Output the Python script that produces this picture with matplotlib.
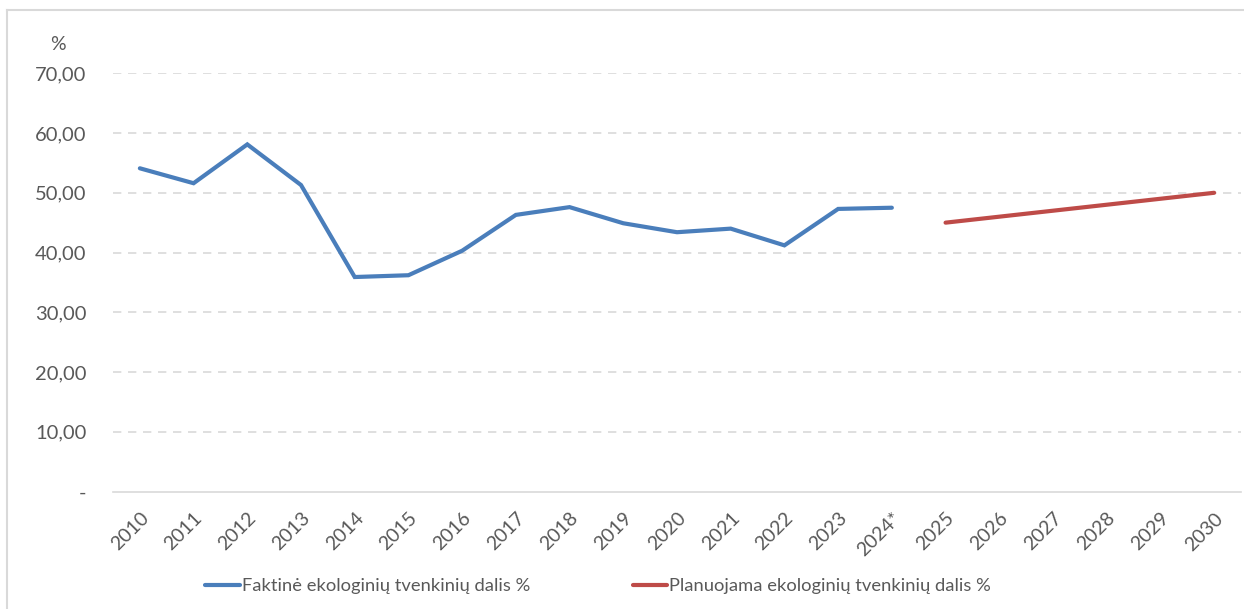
import matplotlib
matplotlib.use("Agg")
from matplotlib import pyplot as plt
from matplotlib.lines import Line2D
from matplotlib.transforms import ScaledTranslation

# Data
years = ["2010", "2011", "2012", "2013", "2014", "2015", "2016", "2017",
         "2018", "2019", "2020", "2021", "2022", "2023", "2024*",
         "2025", "2026", "2027", "2028", "2029", "2030"]
actual = [54.1, 51.6, 58.1, 51.3, 35.9, 36.2, 40.3, 46.3, 47.6, 44.9,
          43.4, 44.0, 41.2, 47.3, 47.5]
planned = [45.0, 46.0, 47.0, 48.0, 49.0, 50.0]
ytick_vals = [0, 10, 20, 30, 40, 50, 60, 70]
ytick_labels = ["-", "10,00", "20,00", "30,00", "40,00", "50,00", "60,00", "70,00"]

BLUE = "#4a7ebb"
RED = "#be4b48"
GREY_TXT = "#595959"
GRID = "#d9d9d9"

plt.rcParams['font.family'] = ['Lato', 'DejaVu Sans']

W, H = 1244, 609
fig = plt.figure(figsize=(W / 100, H / 100), dpi=100)
ax = fig.add_axes([113 / W, 1 - 491.5 / H, (1241 - 113) / W, (491.5 - 73.3) / H])

x_all = list(range(len(years)))
n_act = len(actual)
ax.plot(x_all[:n_act], actual, color=BLUE, lw=3.0, solid_capstyle="round",
        solid_joinstyle="miter", label="Faktinė ekologinių tvenkinių dalis %")
ax.plot(x_all[n_act:], planned, color=RED, lw=3.0, solid_capstyle="round",
        label="Planuojama ekologinių tvenkinių dalis %")

ax.set_xlim(-0.5, len(years) - 0.5)
ax.set_ylim(0, 70)
ax.set_yticks(ytick_vals)
ax.set_yticklabels(ytick_labels, color=GREY_TXT, fontsize=14.5)
ax.set_xticks(x_all)
ax.set_xticklabels(years, rotation=45, ha="right", va="top",
                   rotation_mode="anchor", color=GREY_TXT, fontsize=14)
shift = ScaledTranslation(-7 / 100, 0, fig.dpi_scale_trans)
for lbl in ax.get_xticklabels():
    lbl.set_transform(lbl.get_transform() + shift)
ax.tick_params(axis="both", length=0)
ax.tick_params(axis="y", pad=19)
ax.tick_params(axis="x", pad=13)

for v in ytick_vals[1:]:
    ax.axhline(v, color=GRID, lw=1.2, ls=(0, (5, 4)), zorder=0)

for s in ["top", "right", "left"]:
    ax.spines[s].set_visible(False)
ax.spines["bottom"].set_color(GRID)
ax.spines["bottom"].set_linewidth(1.2)

fig.text(58 / W, 1 - 45 / H, "%", color=GREY_TXT, fontsize=14,
         ha="center", va="center")

leg = fig.legend(loc="center", bbox_to_anchor=(598 / W, 1 - 586 / H), ncol=2,
                 frameon=False, fontsize=13.2, handlelength=1.9, handletextpad=0.1,
                 columnspacing=5.6)
for t in leg.get_texts():
    t.set_color(GREY_TXT)

# chart border lines (left and top)
fig.add_artist(Line2D([7.5 / W, 7.5 / W], [0, 1 - 9.5 / H], transform=fig.transFigure,
                      color="#d9d9d9", lw=1.5))
fig.add_artist(Line2D([7.5 / W, 1], [1 - 9.5 / H, 1 - 9.5 / H], transform=fig.transFigure,
                      color="#d9d9d9", lw=1.5))

fig.savefig("out.png", dpi=100)
